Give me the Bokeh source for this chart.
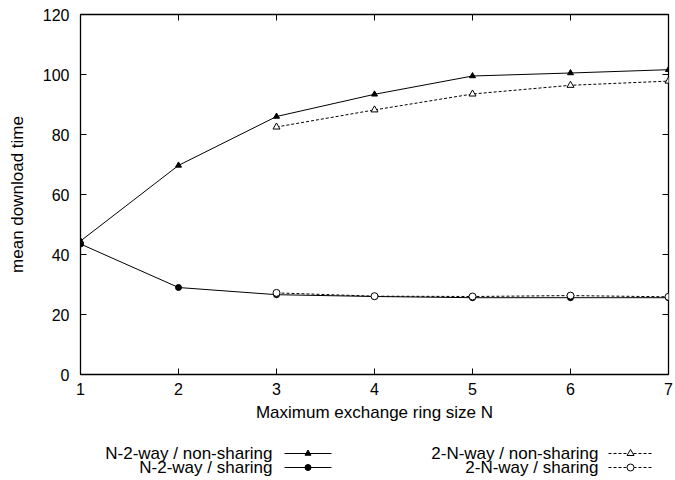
import math
from bokeh.plotting import figure
from bokeh.layouts import column
from bokeh.models import Range1d, LinearAxis, FixedTicker
from bokeh.core.properties import value
from bokeh.embed import file_html
from bokeh.resources import INLINE

# Data
n_all = [1, 2, 3, 4, 5, 6, 7]
n2_nonsharing = [44.5, 69.7, 86.0, 93.4, 99.5, 100.5, 101.6]
n2_sharing = [43.5, 29.0, 26.6, 26.0, 25.6, 25.6, 25.6]
n_part = [3, 4, 5, 6, 7]
twoN_nonsharing = [82.5, 88.2, 93.5, 96.4, 97.8]
twoN_sharing = [27.2, 26.1, 26.0, 26.3, 25.9]
legend_labels = ["N-2-way / non-sharing", "N-2-way / sharing",
                 "2-N-way / non-sharing", "2-N-way / sharing"]
x_ticks = [1, 2, 3, 4, 5, 6, 7]
y_ticks = [0, 20, 40, 60, 80, 100, 120]
x_min, x_max = 1, 7
y_min, y_max = 0, 120

FONT = "Liberation Sans"
FS = "16px"
FS_LABEL = "17px"

p = figure(width=675, height=433, output_backend="svg", toolbar_location=None,
           x_range=Range1d(x_min, x_max), y_range=Range1d(y_min, y_max),
           min_border_left=80, min_border_right=7, min_border_top=14,
           min_border_bottom=59, x_axis_location=None, y_axis_location=None)
p.grid.visible = False
p.outline_line_color = "black"
p.outline_line_width = 1.3

def style_axis(ax):
    ax.major_tick_in = 6
    ax.major_tick_out = 0
    ax.minor_tick_line_color = None
    ax.axis_line_color = None
    ax.major_tick_line_color = "black"
    ax.major_label_text_font = FONT
    ax.major_label_text_font_size = FS
    ax.major_label_text_color = "black"
    ax.axis_label_text_font = FONT
    ax.axis_label_text_font_size = FS_LABEL
    ax.axis_label_text_font_style = "normal"
    ax.axis_label_text_color = "black"

xb = LinearAxis(ticker=FixedTicker(ticks=x_ticks), axis_label="Maximum exchange ring size N")
style_axis(xb)
xb.major_label_standoff = 8
xb.axis_label_standoff = 5
p.add_layout(xb, "below")

yl = LinearAxis(ticker=FixedTicker(ticks=y_ticks), axis_label="mean download time")
style_axis(yl)
yl.major_label_standoff = 11
yl.axis_label_standoff = 13
p.add_layout(yl, "left")

# mirrored inner ticks on top and right (dash markers clipped by the frame)
p.scatter(x_ticks, [y_max] * len(x_ticks), marker="dash", size=12, angle=math.pi / 2,
          line_color="black", line_width=1)
p.scatter([x_max] * len(y_ticks), y_ticks, marker="dash", size=12,
          line_color="black", line_width=1)

# Series
p.line(n_all, n2_nonsharing, line_color="black", line_width=1)
p.scatter(n_all, n2_nonsharing, marker="triangle", size=6, fill_color="black", line_color="black")
p.line(n_all, n2_sharing, line_color="black", line_width=1)
p.scatter(n_all, n2_sharing, marker="circle", size=6, fill_color="black", line_color="black")
p.line(n_part, twoN_nonsharing, line_color="black", line_width=1, line_dash="3 2")
p.scatter(n_part, twoN_nonsharing, marker="triangle", size=7, fill_color="white", line_color="black")
p.line(n_part, twoN_sharing, line_color="black", line_width=1, line_dash="3 2")
p.scatter(n_part, twoN_sharing, marker="circle", size=7, fill_color="white", line_color="black")

# Legend figure (pixel coordinates; frame aligned with the main frame)
lg = figure(width=675, height=47, output_backend="svg", toolbar_location=None,
            x_range=Range1d(80, 668), y_range=Range1d(47, 0),
            x_axis_location=None, y_axis_location=None,
            min_border=0, min_border_left=80, min_border_right=7,
            min_border_top=0, min_border_bottom=0)
lg.grid.visible = False
lg.outline_line_color = None

txt_x = [272, 272, 598, 598]
txt_y = [20, 34, 20, 34]
lg.text(txt_x, txt_y, text=legend_labels, text_align="right", text_baseline="middle",
        text_font=value(FONT), text_font_size=FS_LABEL, text_color="black")
seg_x0 = [284, 284, 608, 608]
seg_x1 = [331, 331, 652, 652]
dashes = ["solid", "solid", "3 2", "3 2"]
for i in range(4):
    lg.line([seg_x0[i], seg_x1[i]], [txt_y[i], txt_y[i]], line_color="black",
            line_width=1, line_dash=dashes[i])
mx = [(seg_x0[i] + seg_x1[i]) / 2 for i in range(4)]
lg.scatter([mx[0]], [txt_y[0]], marker="triangle", size=6, fill_color="black", line_color="black")
lg.scatter([mx[1]], [txt_y[1]], marker="circle", size=6, fill_color="black", line_color="black")
lg.scatter([mx[2]], [txt_y[2]], marker="triangle", size=7, fill_color="white", line_color="black")
lg.scatter([mx[3]], [txt_y[3]], marker="circle", size=7, fill_color="white", line_color="black")

layout = column(p, lg, spacing=0)
open("out.html", "w").write(file_html(layout, INLINE))
